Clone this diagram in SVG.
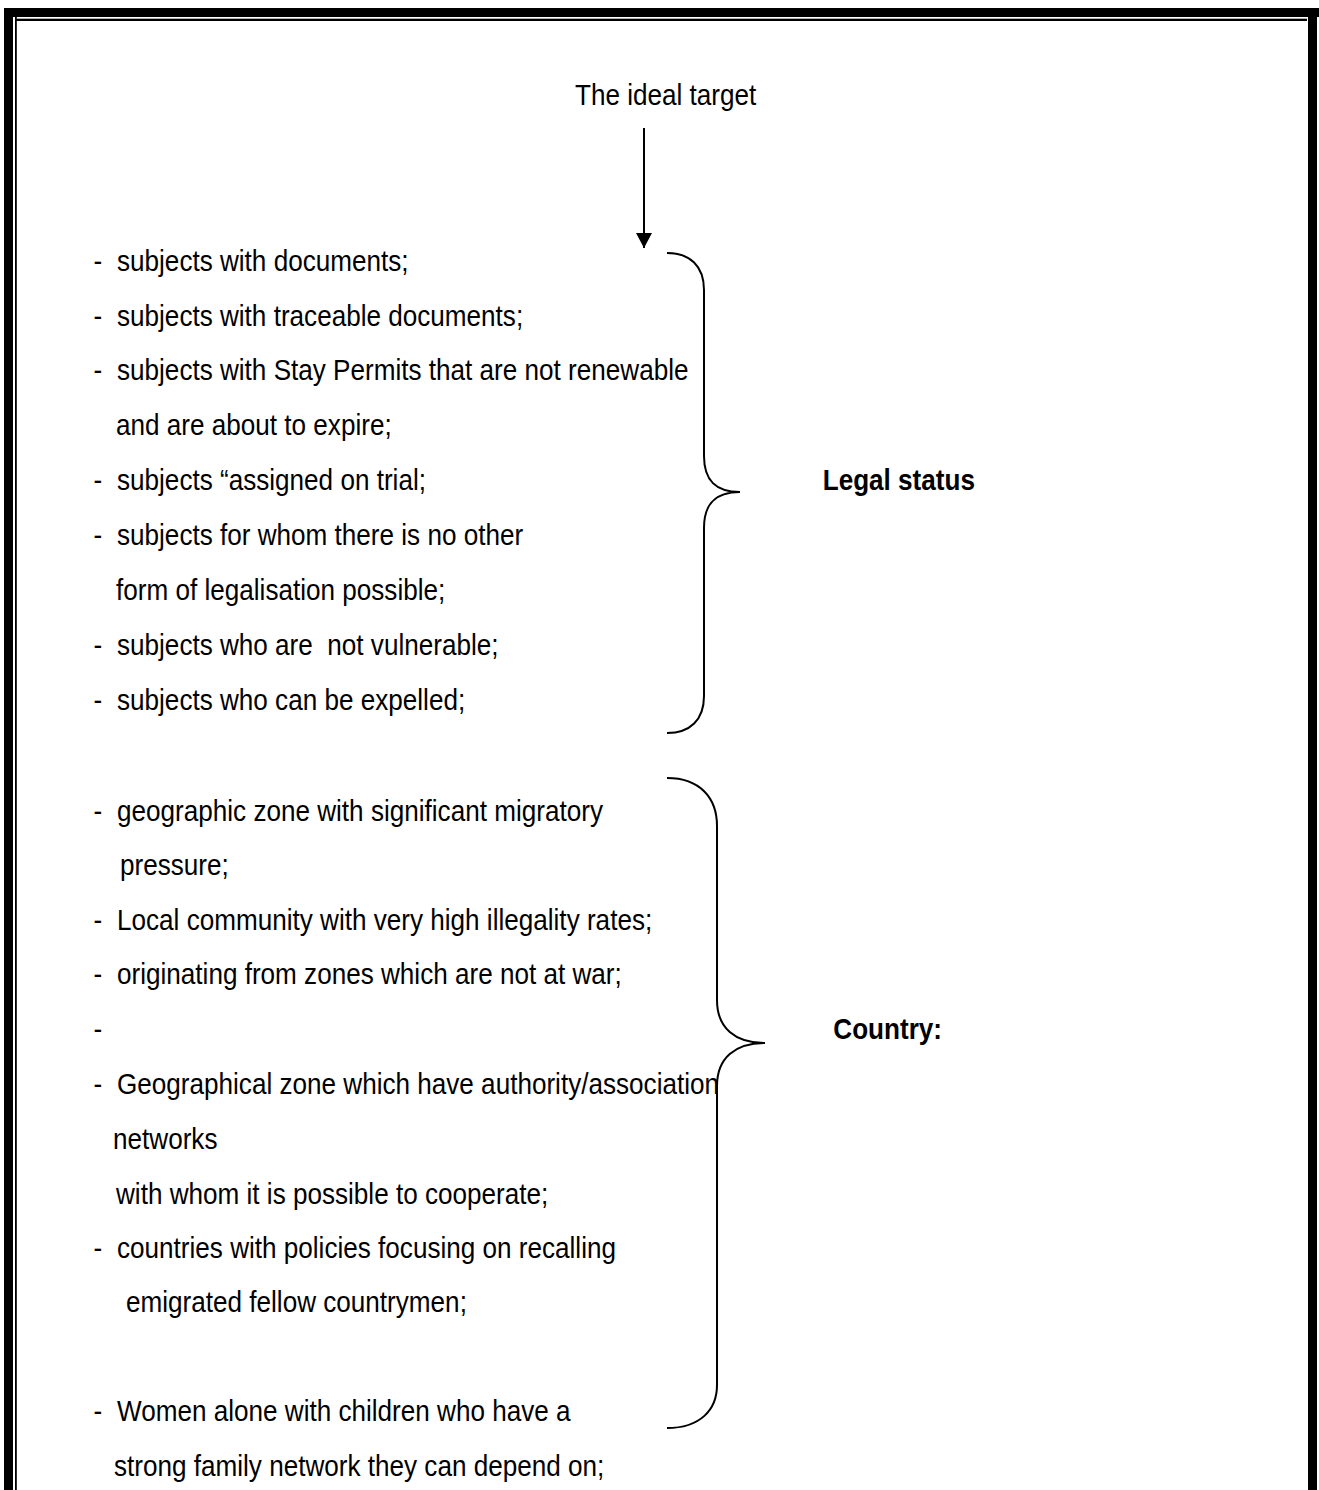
<svg xmlns="http://www.w3.org/2000/svg" width="1319" height="1490" viewBox="0 0 1319 1490">
<style>
  text { font-family: "Liberation Sans", Arial, sans-serif; font-size: 29.5px; fill: #000; white-space: pre; }
  .b { font-weight: bold; }
  .conn { fill: none; stroke: #000; stroke-width: 2; }
</style>
<defs>
  <marker id="ah" markerWidth="15" markerHeight="16" refX="15" refY="8" orient="auto" markerUnits="userSpaceOnUse" viewBox="0 0 15 16">
    <path d="M0,0 L15,8 L0,16 Z" fill="#000"/>
  </marker>
</defs>
<rect width="1319" height="1490" fill="#fff"/>
<g id="frame" fill="#000">
  <rect x="4" y="8" width="1315" height="9"/>
  <rect x="4" y="8" width="9" height="1482"/>
  <rect x="1308" y="17" width="9" height="1473"/>
  <rect x="15" y="18.7" width="1292" height="2.3"/>
  <rect x="15" y="17" width="1.8" height="1473"/>
</g>
<g id="connectors">
  <line class="conn" x1="644" y1="128" x2="644" y2="248" marker-end="url(#ah)"/>
  <path id="brace-legal" class="conn" d="M667,253 C690,253 704,266 704,290 V456 C704,480 715,492 740,492 C715,492 704,504 704,528 V696 C704,720 690,733 667,733"/>
  <path id="brace-country" class="conn" d="M667,778 C700,778 717,798 717,826 V1000 C717,1028 735,1043 765,1043 C735,1043 717,1058 717,1086 V1385 C717,1410 700,1428 667,1428"/>
</g>
<g transform="scale(0.885 1)">
  <g id="title"><text x="649.7" y="105">The ideal target</text></g>
  <g id="legal-list">
    <text x="105.6" y="270.7">-</text><text x="132.2" y="270.7">subjects with documents;</text>
    <text x="105.6" y="325.6">-</text><text x="132.2" y="325.6">subjects with traceable documents;</text>
    <text x="105.6" y="380.5">-</text><text x="132.2" y="380.5">subjects with Stay Permits that are not renewable</text>
    <text x="131.1" y="435.4">and are about to expire;</text>
    <text x="105.6" y="490.3">-</text><text x="132.2" y="490.3">subjects “assigned on trial;</text>
    <text x="105.6" y="545.2">-</text><text x="132.2" y="545.2">subjects for whom there is no other</text>
    <text x="131.1" y="600.1">form of legalisation possible;</text>
    <text x="105.6" y="655">-</text><text x="132.2" y="655" xml:space="preserve">subjects who are  not vulnerable;</text>
    <text x="105.6" y="709.9">-</text><text x="132.2" y="709.9">subjects who can be expelled;</text>
  </g>
  <g id="legal-label"><text class="b" x="929.6" y="490">Legal status</text></g>
  <g id="country-list">
    <text x="105.6" y="821">-</text><text x="132.2" y="821">geographic zone with significant migratory</text>
    <text x="135.6" y="875.5">pressure;</text>
    <text x="105.6" y="930">-</text><text x="132.2" y="930">Local community with very high illegality rates;</text>
    <text x="105.6" y="984.5">-</text><text x="132.2" y="984.5">originating from zones which are not at war;</text>
    <text x="105.6" y="1039">-</text>
    <text x="105.6" y="1094">-</text><text x="132.2" y="1094">Geographical zone which have authority/association</text>
    <text x="127.7" y="1149">networks</text>
    <text x="131.1" y="1204">with whom it is possible to cooperate;</text>
    <text x="105.6" y="1258">-</text><text x="132.2" y="1258">countries with policies focusing on recalling</text>
    <text x="142.4" y="1312">emigrated fellow countrymen;</text>
    <text x="105.6" y="1421">-</text><text x="132.2" y="1421">Women alone with children who have a</text>
    <text x="128.8" y="1476">strong family network they can depend on;</text>
  </g>
  <g id="country-label"><text class="b" x="941.6" y="1039.3">Country:</text></g>
</g>
</svg>
